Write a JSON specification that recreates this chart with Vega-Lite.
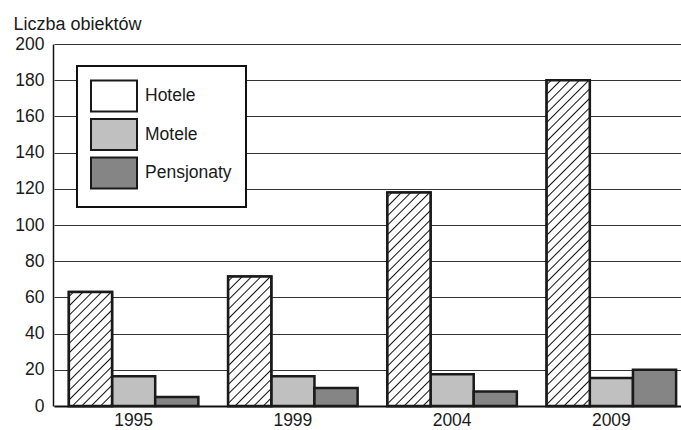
{
  "$schema": "https://vega.github.io/schema/vega-lite/v6.json",
  "width": 628,
  "height": 362,
  "autosize": "none",
  "padding": {"left": 53, "top": 44, "right": 0, "bottom": 24},
  "background": "white",
  "config": {
    "font": "Liberation Sans",
    "view": {"stroke": null},
    "axis": {"labelFont": "Liberation Sans", "titleFont": "Liberation Sans"},
    "legend": {"labelFont": "Liberation Sans", "strokeWidth": 2}
  },
  "params": [
    {
      "name": "hatchStops",
      "value": [
        {"offset":0.007,"color":"#fff"},{"offset":0.01,"color":"#111"},{"offset":0.013,"color":"#fff"},
        {"offset":0.027,"color":"#fff"},{"offset":0.03,"color":"#111"},{"offset":0.033,"color":"#fff"},
        {"offset":0.047,"color":"#fff"},{"offset":0.05,"color":"#111"},{"offset":0.053,"color":"#fff"},
        {"offset":0.067,"color":"#fff"},{"offset":0.07,"color":"#111"},{"offset":0.073,"color":"#fff"},
        {"offset":0.087,"color":"#fff"},{"offset":0.09,"color":"#111"},{"offset":0.093,"color":"#fff"},
        {"offset":0.107,"color":"#fff"},{"offset":0.11,"color":"#111"},{"offset":0.113,"color":"#fff"},
        {"offset":0.127,"color":"#fff"},{"offset":0.13,"color":"#111"},{"offset":0.133,"color":"#fff"},
        {"offset":0.147,"color":"#fff"},{"offset":0.15,"color":"#111"},{"offset":0.153,"color":"#fff"},
        {"offset":0.167,"color":"#fff"},{"offset":0.17,"color":"#111"},{"offset":0.173,"color":"#fff"},
        {"offset":0.187,"color":"#fff"},{"offset":0.19,"color":"#111"},{"offset":0.193,"color":"#fff"},
        {"offset":0.207,"color":"#fff"},{"offset":0.21,"color":"#111"},{"offset":0.213,"color":"#fff"},
        {"offset":0.227,"color":"#fff"},{"offset":0.23,"color":"#111"},{"offset":0.233,"color":"#fff"},
        {"offset":0.247,"color":"#fff"},{"offset":0.25,"color":"#111"},{"offset":0.253,"color":"#fff"},
        {"offset":0.267,"color":"#fff"},{"offset":0.27,"color":"#111"},{"offset":0.273,"color":"#fff"},
        {"offset":0.287,"color":"#fff"},{"offset":0.29,"color":"#111"},{"offset":0.293,"color":"#fff"},
        {"offset":0.307,"color":"#fff"},{"offset":0.31,"color":"#111"},{"offset":0.313,"color":"#fff"},
        {"offset":0.327,"color":"#fff"},{"offset":0.33,"color":"#111"},{"offset":0.333,"color":"#fff"},
        {"offset":0.347,"color":"#fff"},{"offset":0.35,"color":"#111"},{"offset":0.353,"color":"#fff"},
        {"offset":0.367,"color":"#fff"},{"offset":0.37,"color":"#111"},{"offset":0.373,"color":"#fff"},
        {"offset":0.387,"color":"#fff"},{"offset":0.39,"color":"#111"},{"offset":0.393,"color":"#fff"},
        {"offset":0.407,"color":"#fff"},{"offset":0.41,"color":"#111"},{"offset":0.413,"color":"#fff"},
        {"offset":0.427,"color":"#fff"},{"offset":0.43,"color":"#111"},{"offset":0.433,"color":"#fff"},
        {"offset":0.447,"color":"#fff"},{"offset":0.45,"color":"#111"},{"offset":0.453,"color":"#fff"},
        {"offset":0.467,"color":"#fff"},{"offset":0.47,"color":"#111"},{"offset":0.473,"color":"#fff"},
        {"offset":0.487,"color":"#fff"},{"offset":0.49,"color":"#111"},{"offset":0.493,"color":"#fff"},
        {"offset":0.507,"color":"#fff"},{"offset":0.51,"color":"#111"},{"offset":0.513,"color":"#fff"},
        {"offset":0.527,"color":"#fff"},{"offset":0.53,"color":"#111"},{"offset":0.533,"color":"#fff"},
        {"offset":0.547,"color":"#fff"},{"offset":0.55,"color":"#111"},{"offset":0.553,"color":"#fff"},
        {"offset":0.567,"color":"#fff"},{"offset":0.57,"color":"#111"},{"offset":0.573,"color":"#fff"},
        {"offset":0.587,"color":"#fff"},{"offset":0.59,"color":"#111"},{"offset":0.593,"color":"#fff"},
        {"offset":0.607,"color":"#fff"},{"offset":0.61,"color":"#111"},{"offset":0.613,"color":"#fff"},
        {"offset":0.627,"color":"#fff"},{"offset":0.63,"color":"#111"},{"offset":0.633,"color":"#fff"},
        {"offset":0.647,"color":"#fff"},{"offset":0.65,"color":"#111"},{"offset":0.653,"color":"#fff"},
        {"offset":0.667,"color":"#fff"},{"offset":0.67,"color":"#111"},{"offset":0.673,"color":"#fff"},
        {"offset":0.687,"color":"#fff"},{"offset":0.69,"color":"#111"},{"offset":0.693,"color":"#fff"},
        {"offset":0.707,"color":"#fff"},{"offset":0.71,"color":"#111"},{"offset":0.713,"color":"#fff"},
        {"offset":0.727,"color":"#fff"},{"offset":0.73,"color":"#111"},{"offset":0.733,"color":"#fff"},
        {"offset":0.747,"color":"#fff"},{"offset":0.75,"color":"#111"},{"offset":0.753,"color":"#fff"},
        {"offset":0.767,"color":"#fff"},{"offset":0.77,"color":"#111"},{"offset":0.773,"color":"#fff"},
        {"offset":0.787,"color":"#fff"},{"offset":0.79,"color":"#111"},{"offset":0.793,"color":"#fff"},
        {"offset":0.807,"color":"#fff"},{"offset":0.81,"color":"#111"},{"offset":0.813,"color":"#fff"},
        {"offset":0.827,"color":"#fff"},{"offset":0.83,"color":"#111"},{"offset":0.833,"color":"#fff"},
        {"offset":0.847,"color":"#fff"},{"offset":0.85,"color":"#111"},{"offset":0.853,"color":"#fff"},
        {"offset":0.867,"color":"#fff"},{"offset":0.87,"color":"#111"},{"offset":0.873,"color":"#fff"},
        {"offset":0.887,"color":"#fff"},{"offset":0.89,"color":"#111"},{"offset":0.893,"color":"#fff"},
        {"offset":0.907,"color":"#fff"},{"offset":0.91,"color":"#111"},{"offset":0.913,"color":"#fff"},
        {"offset":0.927,"color":"#fff"},{"offset":0.93,"color":"#111"},{"offset":0.933,"color":"#fff"},
        {"offset":0.947,"color":"#fff"},{"offset":0.95,"color":"#111"},{"offset":0.953,"color":"#fff"},
        {"offset":0.967,"color":"#fff"},{"offset":0.97,"color":"#111"},{"offset":0.973,"color":"#fff"},
        {"offset":0.987,"color":"#fff"},{"offset":0.99,"color":"#111"},{"offset":0.993,"color":"#fff"}
      ]
    }
  ],
  "data": {
    "values": [
      {"year": "1995", "series": "Hotele", "value": 63},
      {"year": "1995", "series": "Motele", "value": 16.5},
      {"year": "1995", "series": "Pensjonaty", "value": 5},
      {"year": "1999", "series": "Hotele", "value": 71.5},
      {"year": "1999", "series": "Motele", "value": 16.5},
      {"year": "1999", "series": "Pensjonaty", "value": 10},
      {"year": "2004", "series": "Hotele", "value": 118},
      {"year": "2004", "series": "Motele", "value": 17.5},
      {"year": "2004", "series": "Pensjonaty", "value": 8},
      {"year": "2009", "series": "Hotele", "value": 180},
      {"year": "2009", "series": "Motele", "value": 15.5},
      {"year": "2009", "series": "Pensjonaty", "value": 20}
    ]
  },
  "encoding": {
    "x": {
      "field": "year",
      "type": "nominal",
      "scale": {"range": [1, 638], "paddingInner": 0.187, "paddingOuter": 0.0935},
      "axis": {
        "title": null,
        "ticks": false,
        "labelAngle": 0,
        "labelFontSize": 17.5,
        "labelColor": "#1a1a1a",
        "labelPadding": 5,
        "domainColor": "#111",
        "domainWidth": 2
      }
    },
    "xOffset": {
      "field": "series",
      "type": "nominal",
      "scale": {"domain": ["Hotele", "Motele", "Pensjonaty"], "paddingInner": 0, "paddingOuter": 0}
    },
    "y": {
      "field": "value",
      "type": "quantitative",
      "stack": null,
      "scale": {"domain": [0, 200], "nice": false},
      "axis": {
        "title": "Liczba obiektów",
        "titleAngle": 0,
        "titleAlign": "left",
        "titleBaseline": "alphabetic",
        "titleX": -40,
        "titleY": -15,
        "titleFontSize": 18,
        "titleFontWeight": "normal",
        "titleColor": "#1a1a1a",
        "values": [0, 20, 40, 60, 80, 100, 120, 140, 160, 180, 200],
        "ticks": false,
        "labelPadding": 9,
        "labelFontSize": 17.5,
        "labelColor": "#1a1a1a",
        "grid": true,
        "gridColor": "#333",
        "gridWidth": 1,
        "domainColor": "#111",
        "domainWidth": 1.5
      }
    }
  },
  "layer": [
    {
      "mark": {"type": "bar", "stroke": "#1a1a1a", "strokeWidth": 2.5},
      "encoding": {
        "fill": {
          "field": "series",
          "type": "nominal",
          "scale": {"domain": ["Hotele", "Motele", "Pensjonaty"], "range": ["#ffffff", "#c0c0c0", "#858585"]},
          "legend": {
            "title": null,
            "orient": "none",
            "legendX": 24,
            "legendY": 22,
            "direction": "vertical",
            "padding": 14,
            "strokeColor": "#111",
            "fillColor": "white",
            "symbolType": "M-1.5333,-1.0333H1.5333V1.0333H-1.5333Z",
            "symbolSize": 900,
            "symbolStrokeColor": "#1a1a1a",
            "symbolStrokeWidth": 2,
            "symbolOffset": 7,
            "labelOffset": 15,
            "labelFontSize": 17.5,
            "labelColor": "#1a1a1a",
            "rowPadding": -1.5,
            "encode": {
              "symbols": {
                "update": {
                  "stroke": {"value": "#1a1a1a"},
                  "strokeWidth": {"value": 2},
                  "fillOpacity": {"value": 1},
                  "opacity": {"value": 1}
                }
              }
            }
          }
        }
      }
    },
    {
      "transform": [{"filter": "datum.series === 'Hotele'"}],
      "mark": {
        "type": "bar",
        "stroke": "#1a1a1a",
        "strokeWidth": 2.5,
        "fill": {"expr": "{gradient: 'linear', x1: 0, y1: 0, x2: 470*bandwidth('xOffset')/(pow(bandwidth('xOffset'),2)+pow(scale('y',0)-scale('y',datum.value),2)), y2: 470*(scale('y',0)-scale('y',datum.value))/(pow(bandwidth('xOffset'),2)+pow(scale('y',0)-scale('y',datum.value),2)), stops: hatchStops}"}
      }
    }
  ]
}
